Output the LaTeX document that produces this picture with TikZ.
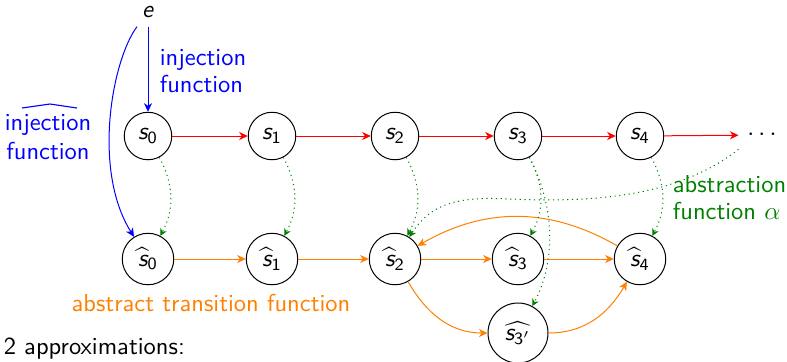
\documentclass[tikz,border=0pt]{standalone}
\usepackage{amsmath}
\usetikzlibrary{arrows.meta}
\renewcommand\familydefault{\sfdefault}
\newcommand\sst[1]{\ensuremath{\text{\itshape s}_{\text{#1}}}}
\newcommand\shat[1]{\ensuremath{\widehat{\text{\itshape s}}_{\text{#1}}}}
\definecolor{absgreen}{rgb}{0,0.5,0}
\definecolor{trorange}{rgb}{1,0.5,0}
\tikzset{
  stnode/.style={circle,draw,inner sep=0pt,minimum size=19pt},
  hnode/.style={circle,draw,inner sep=0pt,minimum size=20.6pt},
  hpnode/.style={circle,draw,inner sep=0pt,minimum size=24pt},
  arr/.style={-{Stealth[length=3.4pt,width=3.2pt,inset=1pt]}},
  realtr/.style={arr,red},
  abstr/.style={arr,trorange},
  inj/.style={arr,blue},
  absf/.style={-{Stealth[length=2.8pt,width=2.8pt,inset=0.9pt]},absgreen,dash pattern=on 0.45pt off 1.45pt},
}
\begin{document}
\begin{tikzpicture}[x=0.4pt,y=-0.4pt,font={\fontsize{9.8}{10.8}\selectfont\sffamily}]
\useasboundingbox (0,0) rectangle (787,361);
% concrete states
\node (e) at (148,12) {\textit{e}};
\node[stnode] (s0) at (148,136) {\sst{0}};
\node[stnode] (s1) at (272,136) {\sst{1}};
\node[stnode] (s2) at (395,136) {\sst{2}};
\node[stnode] (s3) at (518,136) {\sst{3}};
\node[stnode] (s4) at (640,136) {\sst{4}};
\node (dots) at (764,135) {$\cdots$};
% abstract states
\node[hnode] (hs0) at (148,259) {\shat{0}};
\node[hnode] (hs1) at (272,259) {\shat{1}};
\node[hnode] (hs2) at (395,259) {\shat{2}};
\node[hnode] (hs3) at (518,259) {\shat{3}};
\node[hnode] (hs4) at (640,259) {\shat{4}};
\node[hpnode] (hs3p) at (518,333) {$\widehat{\text{\itshape s}_{\text{3}'}}$};
% labels
\node[blue,align=left,anchor=west] (injl) at (151,71) {injection\\function};
\node[blue,align=center] (injh) at (48,137) {injection\\[0.8pt]function};
\draw[blue,line width=0.45pt] (22,108) -- (50,104) -- (77,108);
\node[absgreen,align=left,anchor=west] (absl) at (664,198) {abstraction\\function $\alpha$};
\node[trorange] (trl) at (211,303) {abstract transition function};
\node[anchor=west] (approx) at (-5,349) {2 approximations:};
% injection
\draw[inj] (e) -- (s0);
\draw[inj] (e) .. controls (112,60) and (92,170) .. (hs0);
% concrete transitions
\draw[realtr] (s0) -- (s1);
\draw[realtr] (s1) -- (s2);
\draw[realtr] (s2) -- (s3);
\draw[realtr] (s3) -- (s4);
\draw[realtr] (s4) -- (dots);
% abstract transitions
\draw[abstr] (hs0) -- (hs1);
\draw[abstr] (hs1) -- (hs2);
\draw[abstr] (hs2) -- (hs3);
\draw[abstr] (hs3) -- (hs4);
\draw[abstr] (hs4) to[bend right=30] (hs2);
\draw[abstr] (hs2) to[out=-60,in=180] (hs3p);
\draw[abstr] (hs3p) to[out=0,in=240] (hs4);
% abstraction function
\draw[absf] (s0) to[out=-62,in=62] (hs0);
\draw[absf] (s1) to[out=-62,in=62] (hs1);
\draw[absf] (s2) to[out=-62,in=62] (hs2);
\draw[absf] (s3) to[out=-62,in=62] (hs3);
\draw[absf] (s4) to[out=-62,in=62] (hs4);
\draw[absf] (s3) to[out=-62,in=62,looseness=0.9] (hs3p);
\draw[absf] (dots.south west) .. controls (680,195) and (600,203) .. (510,199) .. controls (455,196) and (430,205) .. (hs2);
\end{tikzpicture}
\end{document}
